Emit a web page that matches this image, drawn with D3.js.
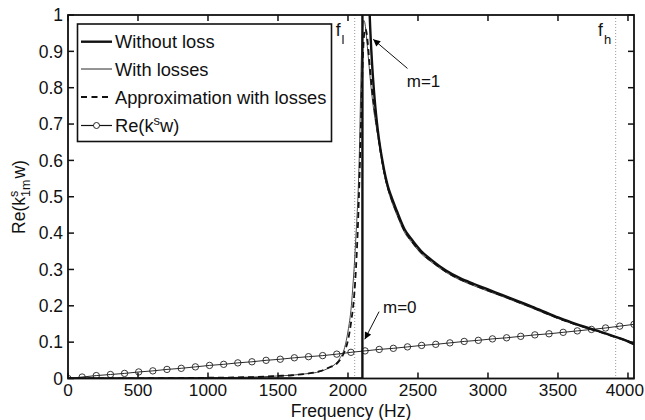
<!DOCTYPE html>
<html>
<head>
<meta charset="utf-8">
<script src="https://cdn.jsdelivr.net/npm/d3@7"></script>
<style>
  html, body { margin: 0; padding: 0; background: #fff; }
  svg { display: block; font-family: "Liberation Sans", Arial, sans-serif; }
</style>
</head>
<body>
<svg id="chart" width="645" height="420"></svg>
<script>
// ---------- DATA ----------
const xTicks = [0, 500, 1000, 1500, 2000, 2500, 3000, 3500, 4000];
const yTicks = [0, 0.1, 0.2, 0.3, 0.4, 0.5, 0.6, 0.7, 0.8, 0.9, 1];
const yTickLabels = ["0", "0.1", "0.2", "0.3", "0.4", "0.5", "0.6", "0.7", "0.8", "0.9", "1"];
const xMax = 4043;

// Without loss (thick solid)
const freqWithout = [0, 2103, 2104, 2108, 2115, 2125, 2140, 2155, 2173, 2190, 2214, 2250, 2284, 2310, 2350, 2405, 2450, 2524, 2600, 2700, 2800, 2900, 3000, 3100, 3200, 3300, 3400, 3500, 3600, 3700, 3800, 3900, 4000, 4043];
const valWithout  = [0, 0, 7.2, 3.2, 2.1, 1.55, 1.2, 1.0, 0.86, 0.77, 0.68, 0.59, 0.53, 0.50, 0.46, 0.41, 0.385, 0.35, 0.325, 0.297, 0.276, 0.26, 0.245, 0.23, 0.215, 0.2, 0.184, 0.168, 0.154, 0.141, 0.129, 0.116, 0.102, 0.094];

// With losses (thin solid)
const freqLoss = [0, 500, 1000, 1200, 1400, 1500, 1600, 1700, 1800, 1869, 1900, 1941, 1976, 2000, 2024, 2036, 2048, 2055, 2065, 2075, 2083, 2090, 2097, 2105, 2113, 2122, 2132, 2145, 2160, 2180, 2214, 2250, 2284, 2310, 2350, 2405, 2450, 2524, 2600, 2700, 2800, 2900, 3000, 3100, 3200, 3300, 3400, 3500, 3600, 3700, 3800, 3900, 4000, 4043];
const valLoss  = [0, 0.0005, 0.002, 0.003, 0.005, 0.007, 0.009, 0.013, 0.019, 0.03, 0.037, 0.055, 0.085, 0.13, 0.20, 0.26, 0.33, 0.38, 0.45, 0.54, 0.65, 0.78, 0.90, 0.965, 0.985, 0.975, 0.94, 0.885, 0.82, 0.75, 0.665, 0.578, 0.521, 0.489, 0.449, 0.401, 0.377, 0.343, 0.319, 0.292, 0.271, 0.255, 0.24, 0.226, 0.211, 0.196, 0.18, 0.165, 0.151, 0.139, 0.128, 0.116, 0.104, 0.098];

// Approximation with losses (dashed)
const freqApprox = [0, 500, 1000, 1200, 1400, 1500, 1600, 1700, 1800, 1869, 1917, 1941, 1976, 2000, 2024, 2040, 2052, 2062, 2072, 2082, 2090, 2098, 2106, 2114, 2122, 2131, 2142, 2155, 2170, 2190, 2214, 2250, 2284, 2310, 2350, 2405, 2450, 2524, 2600, 2700, 2800, 2900, 3000, 3100, 3200, 3300, 3400, 3500, 3600, 3700, 3800, 3900, 4000, 4043];
const valApprox  = [0, 0.0005, 0.002, 0.003, 0.005, 0.007, 0.009, 0.013, 0.02, 0.031, 0.04, 0.05, 0.075, 0.105, 0.16, 0.21, 0.27, 0.34, 0.43, 0.55, 0.66, 0.78, 0.88, 0.94, 0.962, 0.955, 0.92, 0.86, 0.80, 0.74, 0.673, 0.585, 0.526, 0.495, 0.455, 0.406, 0.381, 0.346, 0.322, 0.294, 0.273, 0.257, 0.242, 0.228, 0.213, 0.198, 0.182, 0.166, 0.152, 0.14, 0.128, 0.115, 0.102, 0.095];

// Re(k^s w) (circles)
const freqKs = [0, 101, 202, 303, 404, 505, 606, 707, 809, 910, 1011, 1112, 1213, 1314, 1415, 1516, 1617, 1718, 1819, 1920, 2021, 2122, 2223, 2324, 2425, 2526, 2627, 2728, 2830, 2931, 3032, 3133, 3234, 3335, 3436, 3537, 3638, 3739, 3840, 3941, 4043];
const valKs  = [0, 0.004, 0.008, 0.011, 0.014, 0.018, 0.021, 0.025, 0.028, 0.032, 0.036, 0.039, 0.043, 0.046, 0.050, 0.053, 0.057, 0.060, 0.063, 0.067, 0.072, 0.076, 0.080, 0.083, 0.087, 0.091, 0.094, 0.098, 0.102, 0.105, 0.109, 0.112, 0.116, 0.120, 0.123, 0.127, 0.131, 0.135, 0.139, 0.144, 0.149];

// Reference frequencies
const fLow = 2048;
const fHigh = 3912;

const legendLabels = ["Without loss", "With losses", "Approximation with losses", "Re(k"];

// ---------- LAYOUT ----------
const svg = d3.select("#chart");
const L = 68, R = 634, T = 15, B = 378.5;
const x = d3.scaleLinear().domain([0, xMax]).range([L, R]);
const y = d3.scaleLinear().domain([0, 1]).range([B, T]);

const defs = svg.append("defs");
defs.append("clipPath").attr("id", "clip")
  .append("rect").attr("x", L).attr("y", T).attr("width", R - L).attr("height", B - T);
defs.append("marker").attr("id", "arrow").attr("viewBox", "0 0 10 10")
  .attr("refX", 10).attr("refY", 5).attr("markerWidth", 9).attr("markerHeight", 7)
  .attr("markerUnits", "userSpaceOnUse").attr("orient", "auto")
  .append("path").attr("d", "M0,0 L10,5 L0,10 z").attr("fill", "#000");

const plot = svg.append("g").attr("clip-path", "url(#clip)");

// dotted reference lines
[fLow, fHigh].forEach(f => {
  plot.append("line").attr("x1", x(f)).attr("x2", x(f)).attr("y1", T).attr("y2", B)
    .attr("stroke", "#999").attr("stroke-width", 1).attr("stroke-dasharray", "1,2");
});

const line = d3.line().x(d => x(d[0])).y(d => y(d[1])).curve(d3.curveMonotoneX);
const straight = d3.line().x(d => x(d[0])).y(d => y(d[1]));
const zip = (a, b) => a.map((v, i) => [v, b[i]]);

// Re(ksw)
plot.append("path").datum(zip(freqKs, valKs)).attr("d", straight)
  .attr("fill", "none").attr("stroke", "#111").attr("stroke-width", 0.9);
plot.selectAll("circle.ks").data(zip(freqKs, valKs)).enter().append("circle")
  .attr("class", "ks").attr("cx", d => x(d[0])).attr("cy", d => y(d[1])).attr("r", 3.2)
  .attr("fill", "none").attr("stroke", "#222").attr("stroke-width", 0.9);

// with losses
plot.append("path").datum(zip(freqLoss, valLoss)).attr("d", line)
  .attr("fill", "none").attr("stroke", "#333").attr("stroke-width", 0.9);
// approximation
plot.append("path").datum(zip(freqApprox, valApprox)).attr("d", line)
  .attr("fill", "none").attr("stroke", "#111").attr("stroke-width", 1.8).attr("stroke-dasharray", "6,4");
// without loss
plot.append("path").datum(zip(freqWithout, valWithout)).attr("d", line)
  .attr("fill", "none").attr("stroke", "#111").attr("stroke-width", 2.4);

// ---------- AXES (MATLAB style inward ticks, box) ----------
const tickLen = 6;
const axG = svg.append("g");
xTicks.forEach((t, i) => {
  axG.append("line").attr("x1", x(t)).attr("x2", x(t)).attr("y1", B).attr("y2", B - tickLen).attr("stroke", "#111").attr("stroke-width", 1.5);
  axG.append("line").attr("x1", x(t)).attr("x2", x(t)).attr("y1", T).attr("y2", T + tickLen).attr("stroke", "#111").attr("stroke-width", 1.5);
  const last = i === xTicks.length - 1;
  axG.append("text").attr("x", last ? 644 : x(t)).attr("y", 396)
    .attr("text-anchor", last ? "end" : "middle")
    .attr("font-size", 17.2).attr("fill", "#111").text(t);
});
yTicks.forEach((t, i) => {
  axG.append("line").attr("x1", L).attr("x2", L + tickLen).attr("y1", y(t)).attr("y2", y(t)).attr("stroke", "#111").attr("stroke-width", 1.5);
  axG.append("line").attr("x1", R).attr("x2", R - tickLen).attr("y1", y(t)).attr("y2", y(t)).attr("stroke", "#111").attr("stroke-width", 1.5);
  axG.append("text").attr("x", 63).attr("y", y(t) + 6.2).attr("text-anchor", "end")
    .attr("font-size", 17.5).attr("fill", "#111").text(yTickLabels[i]);
});
axG.append("rect").attr("x", L).attr("y", T).attr("width", R - L).attr("height", B - T)
  .attr("fill", "none").attr("stroke", "#111").attr("stroke-width", 1.8);

// axis labels
svg.append("text").attr("x", (L + R) / 2).attr("y", 416.5).attr("text-anchor", "middle")
  .attr("font-size", 17.5).attr("fill", "#111").text("Frequency (Hz)");

const yl = svg.append("text").attr("transform", `translate(25,197) rotate(-90)`)
  .attr("text-anchor", "middle").attr("font-size", 17.5).attr("fill", "#111");
yl.append("tspan").text("Re(k");
yl.append("tspan").attr("font-size", 12.5).attr("dy", -7).text("s");
yl.append("tspan").attr("font-size", 12.5).attr("dx", -6.25).attr("dy", 12).text("1m");
yl.append("tspan").attr("dy", -5).attr("dx", 1).text("w)");

// reference labels
function subLabel(f, v, main, sub) {
  const t = svg.append("text").attr("x", x(f)).attr("y", y(v)).attr("font-size", 17.5).attr("fill", "#111");
  t.append("tspan").text(main);
  t.append("tspan").attr("font-size", 13).attr("dy", 8).attr("dx", 1).text(sub);
}
subLabel(1912, 0.943, "f", "l");
subLabel(3786, 0.943, "f", "h");

// annotations
function annotate(tip, tail, textPos, label) {
  svg.append("line").attr("x1", x(tail[0])).attr("y1", y(tail[1]))
    .attr("x2", x(tip[0])).attr("y2", y(tip[1]))
    .attr("stroke", "#111").attr("stroke-width", 1).attr("marker-end", "url(#arrow)");
  svg.append("text").attr("x", x(textPos[0])).attr("y", y(textPos[1]))
    .attr("font-size", 17).attr("fill", "#111").text(label);
}
annotate([2180, 0.933], [2425, 0.853], [2420, 0.802], "m=1");
annotate([2120, 0.108], [2222, 0.184], [2250, 0.18], "m=0");

// ---------- LEGEND ----------
const lg = svg.append("g");
lg.append("rect").attr("x", 77.5).attr("y", 24).attr("width", 254).attr("height", 117.5)
  .attr("fill", "#fff").attr("stroke", "#111").attr("stroke-width", 1.6);
const rows = [41.7, 69, 97, 125.5];
const styles = [
  {w: 2.4, dash: null},
  {w: 0.9, dash: null},
  {w: 1.8, dash: "6,4.5"},
  {w: 1.2, dash: null}
];
rows.forEach((ry, i) => {
  lg.append("line").attr("x1", 81).attr("x2", 112).attr("y1", ry).attr("y2", ry)
    .attr("stroke", "#111").attr("stroke-width", styles[i].w)
    .attr("stroke-dasharray", styles[i].dash);
  const t = lg.append("text").attr("x", 115).attr("y", ry + 6.5).attr("font-size", 18.3).attr("fill", "#111");
  t.append("tspan").text(legendLabels[i]);
  if (i === 3) {
    t.append("tspan").attr("font-size", 13).attr("dy", -7).text("s");
    t.append("tspan").attr("dy", 7).text("w)");
  }
});
lg.append("circle").attr("cx", 96.5).attr("cy", rows[3]).attr("r", 3)
  .attr("fill", "#fff").attr("stroke", "#111").attr("stroke-width", 0.9);
</script>
</body>
</html>
